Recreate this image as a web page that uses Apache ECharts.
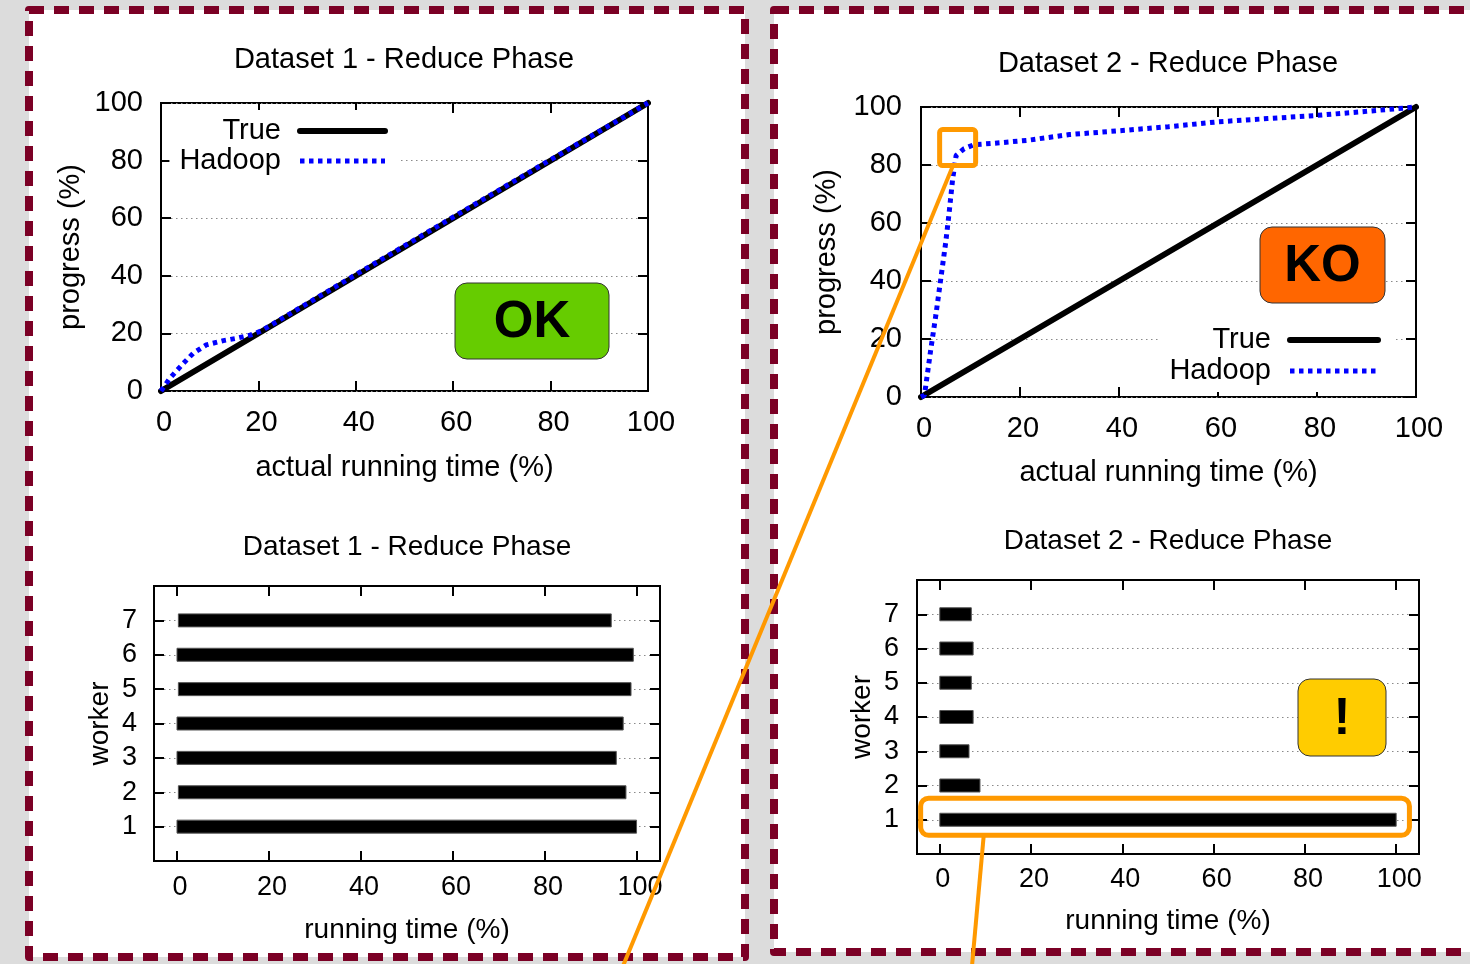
<!DOCTYPE html>
<html>
<head>
<meta charset="utf-8">
<title>Reduce Phase - progress vs. worker activity</title>
<script src="https://cdn.jsdelivr.net/npm/echarts@6/dist/echarts.min.js"></script>
<style>
  html, body { margin: 0; padding: 0; background: #dcdcdc; }
  #chart { width: 1470px; height: 964px; }
</style>
</head>
<body>
<div id="chart"></div>
<script>
// --- progress curves (top charts), all values in % ---
const trueTime = [0, 100];
const trueProgress = [0, 100];

const hadoop1Time = [0, 1.8, 4.6, 6.6, 9.3, 12.8, 15.5, 18.3, 20.5, 25, 40, 60, 80, 100];
const hadoop1Progress = [0, 4.4, 9.6, 13.1, 16, 17.5, 18.3, 19.4, 20.8, 25.3, 40.4, 60.4, 80.3, 100];

const hadoop2Time = [0, 0.7, 2, 3, 4, 5, 5.7, 6.4, 7.1, 8.7, 10.7, 14.1, 21.5, 30, 40, 50, 60, 70, 80, 90, 100];
const hadoop2Progress = [0, 0.6, 16.7, 28.2, 40.8, 53.4, 63.8, 75.3, 83.3, 85.6, 87, 87.4, 88.5, 90.5, 91.8, 93.2, 94.9, 96, 97.1, 98.5, 100];

// --- worker activity (bottom charts), running time in % ---
const workers = [1, 2, 3, 4, 5, 6, 7];
const ds1Start = [0, 0.3, 0, 0, 0.3, 0, 0.3];
const ds1End = [99.9, 97.6, 95.5, 97.0, 98.7, 99.2, 94.4];
const ds2Start = [0, 0, 0, 0, 0, 0, 0];
const ds2End = [100, 8.8, 6.4, 7.3, 6.9, 7.3, 6.9];

const pctTicks = [0, 20, 40, 60, 80, 100];

// annotation anchors (data units of the Dataset 2 charts)
const kneeMark = [7.4, 86];
const slowWorker = { from: -4.2, to: 102.9, worker: 1 };

const FONT = '"Liberation Sans", Arial, Helvetica, sans-serif';
const INK = '#000';
const ORANGE = '#ff9900';
const GRIDDOT = { color: '#8a8a8a', width: 1.2, type: [1.5, 3.5] };

const zip = (xs, ys) => xs.map((x, i) => [x, ys[i]]);
const txt = size => ({ fontFamily: FONT, fontSize: size, color: INK, fontWeight: 'normal' });

function tickStyle(custom) {
  const t = { show: true, inside: true, length: 10, lineStyle: { color: INK, width: 2 } };
  if (custom) t.customValues = custom;
  return t;
}

// bottom axis with labels + mirrored top axis with ticks only
function frameX(grid, c) {
  const common = {
    type: 'value', gridIndex: grid, min: c.min, max: c.max, interval: c.interval,
    axisLine: { show: false, onZero: false }, splitLine: { show: false }, axisTick: tickStyle(c.ticks)
  };
  // gnuplot puts its x labels a few px right of the tick
  const label = Object.assign(txt(c.labelSize), { margin: c.labelMargin, padding: [0, 0, 0, 6] });
  if (c.ticks) label.customValues = c.ticks;
  return [
    Object.assign({}, common, {
      position: 'bottom', axisLabel: label,
      name: c.name, nameLocation: 'middle', nameGap: c.nameGap, nameTextStyle: txt(c.nameSize)
    }),
    Object.assign({}, common, { position: 'top', axisLabel: { show: false } })
  ];
}

// left axis with labels + grid lines, mirrored right axis with ticks only
function frameY(grid, c) {
  const common = {
    type: 'value', gridIndex: grid, min: c.min, max: c.max, interval: c.interval,
    axisLine: { show: false, onZero: false }, axisTick: tickStyle(c.ticks)
  };
  const label = Object.assign(txt(c.labelSize), { margin: c.labelMargin });
  if (c.ticks) label.customValues = c.ticks;
  return [
    Object.assign({}, common, {
      position: 'left', axisLabel: label, splitLine: { show: true, lineStyle: GRIDDOT },
      name: c.name, nameLocation: 'middle', nameGap: c.nameGap, nameTextStyle: txt(c.nameSize)
    }),
    Object.assign({}, common, { position: 'right', axisLabel: { show: false }, splitLine: { show: false } })
  ];
}

function lineSeries(name, axis, data, style) {
  return {
    name, type: 'line', xAxisIndex: axis, yAxisIndex: axis, data,
    symbol: 'none', clip: false, z: name === 'Hadoop' ? 4 : 3,
    lineStyle: style
  };
}

function barSeries(axis, starts, ends) {
  return {
    type: 'custom', xAxisIndex: axis, yAxisIndex: axis, clip: false,
    data: workers.map((w, i) => [starts[i], ends[i], w]),
    encode: { x: [0, 1], y: 2 },
    renderItem: (params, api) => {
      const a = api.coord([api.value(0), api.value(2)]);
      const b = api.coord([api.value(1), api.value(2)]);
      const h = 13;
      return {
        type: 'rect',
        shape: { x: a[0], y: a[1] - h / 2, width: b[0] - a[0], height: h },
        style: { fill: '#000', stroke: '#555', lineWidth: 1 }
      };
    }
  };
}

const trueStyle = { color: '#000', width: 6, type: 'solid', cap: 'round' };
const hadoopStyle = { color: '#0000ff', width: 5, type: [4.5, 4.5], cap: 'butt' };

function legendFor(right, top, gap, iconW) {
  return {
    orient: 'vertical', align: 'right', right, top, itemGap: gap,
    itemWidth: iconW, itemHeight: 14, selectedMode: false,
    backgroundColor: '#fff', padding: [6, 13, 6, 10],
    textStyle: Object.assign(txt(29), { lineHeight: 30, padding: [0, 14, 0, 0] }),
    itemStyle: { opacity: 0 },
    data: [
      { name: 'True', lineStyle: { color: '#000', width: 6, type: 'solid' } },
      { name: 'Hadoop', lineStyle: { color: '#0000ff', width: 5, type: [4.5, 4.5] } }
    ]
  };
}

function titleAt(text, x, y, size) {
  return {
    text, left: x, top: y - size * 0.6, textAlign: 'center', padding: 0,
    textStyle: Object.assign(txt(size), { lineHeight: Math.round(size * 1.2) })
  };
}

const topX = { min: 0, max: 100, interval: 20, labelSize: 29, nameSize: 29, name: 'actual running time (%)' };
const topY = { min: 0, max: 100, interval: 20, labelSize: 29, nameSize: 29, name: 'progress (%)' };
const botX = { min: -5, max: 105, ticks: pctTicks, labelSize: 27, nameSize: 28, name: 'running time (%)' };
const botY = { min: 0, max: 8, interval: 1, ticks: workers, labelSize: 27, nameSize: 28, name: 'worker' };

const chart = echarts.init(document.getElementById('chart'));

chart.setOption({
  animation: false,
  textStyle: { fontFamily: FONT },
  title: [
    titleAt('Dataset 1 - Reduce Phase', 404, 60, 29),
    titleAt('Dataset 2 - Reduce Phase', 1168, 64, 29),
    titleAt('Dataset 1 - Reduce Phase', 407, 547, 28),
    titleAt('Dataset 2 - Reduce Phase', 1168, 541, 28)
  ],
  legend: [
    legendFor(1069, 110, 0, 85),
    legendFor(76, 319, 1, 88)
  ],
  grid: [
    { left: 161, top: 103, width: 487, height: 288 },
    { left: 921, top: 107, width: 495, height: 290 },
    { left: 154, top: 586, width: 506, height: 275 },
    { left: 917, top: 580, width: 502, height: 274 }
  ].map(g => Object.assign(g, { show: true, borderColor: '#000', borderWidth: 2, backgroundColor: 'transparent' })),
  xAxis: [].concat(
    frameX(0, Object.assign({}, topX, { labelMargin: 17, nameGap: 62 })),
    frameX(1, Object.assign({}, topX, { labelMargin: 17, nameGap: 61 })),
    frameX(2, Object.assign({}, botX, { labelMargin: 13, nameGap: 55 })),
    frameX(3, Object.assign({}, botX, { labelMargin: 12, nameGap: 53 }))
  ),
  yAxis: [].concat(
    frameY(0, Object.assign({}, topY, { labelMargin: 18, nameGap: 76 })),
    frameY(1, Object.assign({}, topY, { labelMargin: 19, nameGap: 80 })),
    frameY(2, Object.assign({}, botY, { labelMargin: 17, nameGap: 40 })),
    frameY(3, Object.assign({}, botY, { labelMargin: 18, nameGap: 41 }))
  ),
  series: [
    lineSeries('True', 0, zip(trueTime, trueProgress), trueStyle),
    lineSeries('Hadoop', 0, zip(hadoop1Time, hadoop1Progress), hadoopStyle),
    lineSeries('True', 2, zip(trueTime, trueProgress), trueStyle),
    lineSeries('Hadoop', 2, zip(hadoop2Time, hadoop2Progress), hadoopStyle),
    barSeries(4, ds1Start, ds1End),
    barSeries(6, ds2Start, ds2End)
  ]
});

// panels, verdict badges and the orange call-outs
const px = (grid, v) => chart.convertToPixel({ gridIndex: grid }, v);

function badge(x, y, w, h, color, label) {
  return [
    { type: 'rect', z: 50, shape: { x, y, width: w, height: h, r: 12 },
      style: { fill: color, stroke: '#333', lineWidth: 1 } },
    { type: 'text', z: 51, x: x + w / 2, y: y + h / 2 + 2,
      style: { text: label, fill: '#000', font: 'bold 51px ' + FONT,
        textAlign: 'center', textVerticalAlign: 'middle', align: 'center', verticalAlign: 'middle' } }
  ];
}

const panelStyle = { fill: '#fff', stroke: '#7b0025', lineWidth: 8, lineDash: [15, 10], lineJoin: 'round' };
const knee = px(1, kneeMark);
const slowL = px(3, [slowWorker.from, slowWorker.worker]);
const slowR = px(3, [slowWorker.to, slowWorker.worker]);
const kneeBox = { x: knee[0] - 18, y: knee[1] - 18, width: 36, height: 36, r: 3 };
const slowBox = { x: slowL[0], y: slowL[1] - 21.5, width: slowR[0] - slowL[0], height: 37, r: 8 };

chart.setOption({
  graphic: [
    { type: 'rect', z: -10, shape: { x: 29, y: 10, width: 716, height: 947 }, style: panelStyle },
    { type: 'rect', z: -10, shape: { x: 774, y: 10, width: 760, height: 942 }, style: panelStyle }
  ].concat(
    badge(455, 283, 154, 76, '#66cc00', 'OK'),
    badge(1260, 227, 125, 76, '#ff6600', 'KO'),
    badge(1298, 679, 88, 77, '#ffcc00', '!'),
    [
      { type: 'rect', z: 60, shape: kneeBox, style: { fill: 'none', stroke: ORANGE, lineWidth: 5 } },
      { type: 'rect', z: 60, shape: slowBox, style: { fill: 'none', stroke: ORANGE, lineWidth: 5 } },
      { type: 'line', z: 60, shape: { x1: kneeBox.x + 13, y1: kneeBox.y + kneeBox.height + 1, x2: 623, y2: 966 },
        style: { stroke: ORANGE, lineWidth: 4 } },
      { type: 'line', z: 60, shape: { x1: slowBox.x + 63, y1: slowBox.y + slowBox.height + 1, x2: 972, y2: 966 },
        style: { stroke: ORANGE, lineWidth: 4 } }
    ]
  )
});
</script>
</body>
</html>
